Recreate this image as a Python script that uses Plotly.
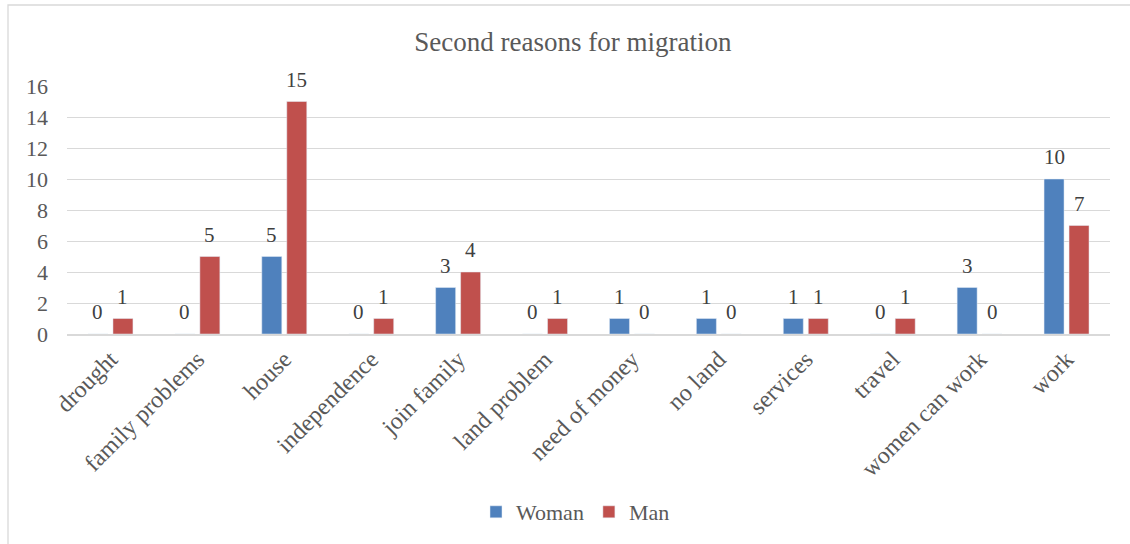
import plotly.graph_objects as go

categories = ["drought", "family problems", "house", "independence", "join family",
              "land problem", "need of money", "no land", "services", "travel",
              "women can work", "work"]
woman = [0, 0, 5, 0, 3, 0, 1, 1, 1, 0, 3, 10]
man = [1, 5, 15, 1, 4, 1, 0, 0, 1, 1, 0, 7]
y_ticks = [0, 2, 4, 6, 8, 10, 12, 14, 16]

FONT = "Liberation Serif"
W, H = 1130, 544
ml, mr, mt, mb = 67, 20, 86, 210
pw, ph = W - ml - mr, H - mt - mb

def px(x):
    return (x - ml) / pw

def py(y):
    return (H - mb - y) / ph

label_font = dict(family=FONT, size=21, color="#404040")

fig = go.Figure()
fig.add_trace(go.Bar(name="Woman", x=categories, y=woman, marker_color="#4f81bd"))
fig.add_trace(go.Bar(name="Man", x=categories, y=man, marker_color="#c0504d"))

annotations = []
for series, shift in ((woman, -12.5), (man, 12.5)):
    for cat, val in zip(categories, series):
        annotations.append(dict(x=cat, y=val, xref="x", yref="y", text=str(val),
                                showarrow=False, xshift=shift, yshift=22,
                                xanchor="center", yanchor="middle", font=label_font))

fig.update_layout(
    width=W, height=H,
    margin=dict(l=ml, r=mr, t=mt, b=mb, autoexpand=False),
    paper_bgcolor="white", plot_bgcolor="white",
    barmode="group", bargap=0.425, bargroupgap=0.2,
    title=dict(text="Second reasons for migration", x=0.507, xanchor="center",
               y=1 - 42 / H, yanchor="middle",
               font=dict(family=FONT, size=27, color="#595959")),
    font=dict(family=FONT, size=21, color="#595959"),
    showlegend=True,
    legend=dict(orientation="h", x=0.5 - 13 / pw, xanchor="center", y=py(512), yanchor="middle",
                font=dict(family=FONT, size=22, color="#595959"), traceorder="normal",
                itemwidth=30),
    xaxis=dict(tickangle=-45, showgrid=False, showline=True, linecolor="#d9d9d9",
               linewidth=1.5, ticks="", automargin=False,
               tickfont=dict(family=FONT, size=24, color="#595959")),
    yaxis=dict(range=[0, 16], tickvals=y_ticks, showgrid=True, gridcolor="#d9d9d9",
               gridwidth=1.3, zeroline=False, ticks="", ticklabelstandoff=18,
               automargin=False,
               tickfont=dict(family=FONT, size=22, color="#595959")),
    annotations=annotations,
    shapes=[dict(type="rect", xref="paper", yref="paper",
                 x0=px(8), x1=px(1140), y0=py(560), y1=py(5),
                 line=dict(color="#d9d9d9", width=1.3), fillcolor="rgba(0,0,0,0)",
                 layer="below")],
)

fig.write_html("out.html")
